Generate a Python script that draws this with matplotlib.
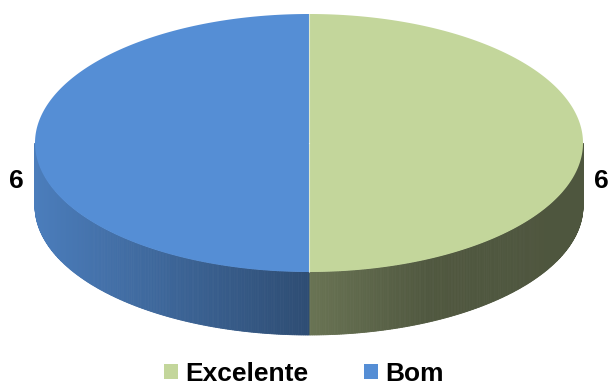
import numpy as np
import matplotlib.pyplot as plt
from matplotlib.colors import to_rgb
from matplotlib.patches import Polygon, Patch

plt.rcParams['font.family'] = ['Liberation Sans', 'DejaVu Sans']

# data
categories = ["Excelente", "Bom"]
values = [6, 6]
top_colors = ["#C3D69B", "#558ED5"]

fig = plt.figure(figsize=(6.08, 3.85), dpi=100)
ax = fig.add_axes([0, 0, 1, 1])
ax.set_xlim(0, 608)
ax.set_ylim(385, 0)
ax.axis('off')

# ellipse geometry in pixel space
cx, cy, rx, ry, depth = 309, 143, 274, 129, 63


def pt(theta, r=1.0):
    # theta in degrees, clockwise from the top
    t = np.radians(theta)
    return cx + r * rx * np.sin(t), cy - r * ry * np.cos(t)


def shade(color, x):
    # side wall lit from the left, darker towards the right
    f = np.interp(x, [cx - rx, cx, cx + 120, cx + rx], [0.88, 0.54, 0.41, 0.40])
    c = np.array(to_rgb(color))
    return tuple(np.clip(c * f, 0, 1))


total = sum(values)
bounds = np.concatenate([[0], np.cumsum(values) / total * 360])

# side walls (only the front half is visible)
for i, col in enumerate(top_colors):
    a0, a1 = max(bounds[i], 90), min(bounds[i + 1], 270)
    if a1 <= a0:
        continue
    th = np.linspace(a0, a1, 240)
    for t0, t1 in zip(th[:-1], th[1:]):
        x0, y0 = pt(t0)
        x1, y1 = pt(t1)
        c = shade(col, (x0 + x1) / 2)
        ax.add_patch(Polygon([(x0, y0), (x1, y1), (x1, y1 + depth), (x0, y0 + depth)],
                             closed=True, facecolor=c, edgecolor=c, lw=0.6))

# top faces
for i, col in enumerate(top_colors):
    th = np.linspace(bounds[i], bounds[i + 1], 300)
    xs, ys = pt(th)
    verts = [(cx, cy)] + list(zip(xs, ys))
    ax.add_patch(Polygon(verts, closed=True, facecolor=col, edgecolor='none'))

# thin seam between slices on top
for b in bounds[:-1]:
    x, y = pt(b)
    ax.plot([cx, x], [cy, y], color='white', lw=0.8, alpha=0.5)

# value labels
for i, v in enumerate(values):
    mid = (bounds[i] + bounds[i + 1]) / 2
    x, y = pt(mid, 1.068)
    ax.text(x, y + depth * 0.6, str(v), ha='center', va='center',
            fontsize=19, fontweight='bold', color='black')

handles = [Patch(facecolor=c, edgecolor='none') for c in top_colors]
ax.legend(handles, categories, loc='lower center', bbox_to_anchor=(0.5, -0.002),
          ncol=2, frameon=False, handlelength=0.53, handleheight=0.53,
          handletextpad=0.27, columnspacing=2.1, borderpad=0, borderaxespad=0,
          prop={'size': 19, 'weight': 'bold'})

fig.savefig('out.png', dpi=100)
